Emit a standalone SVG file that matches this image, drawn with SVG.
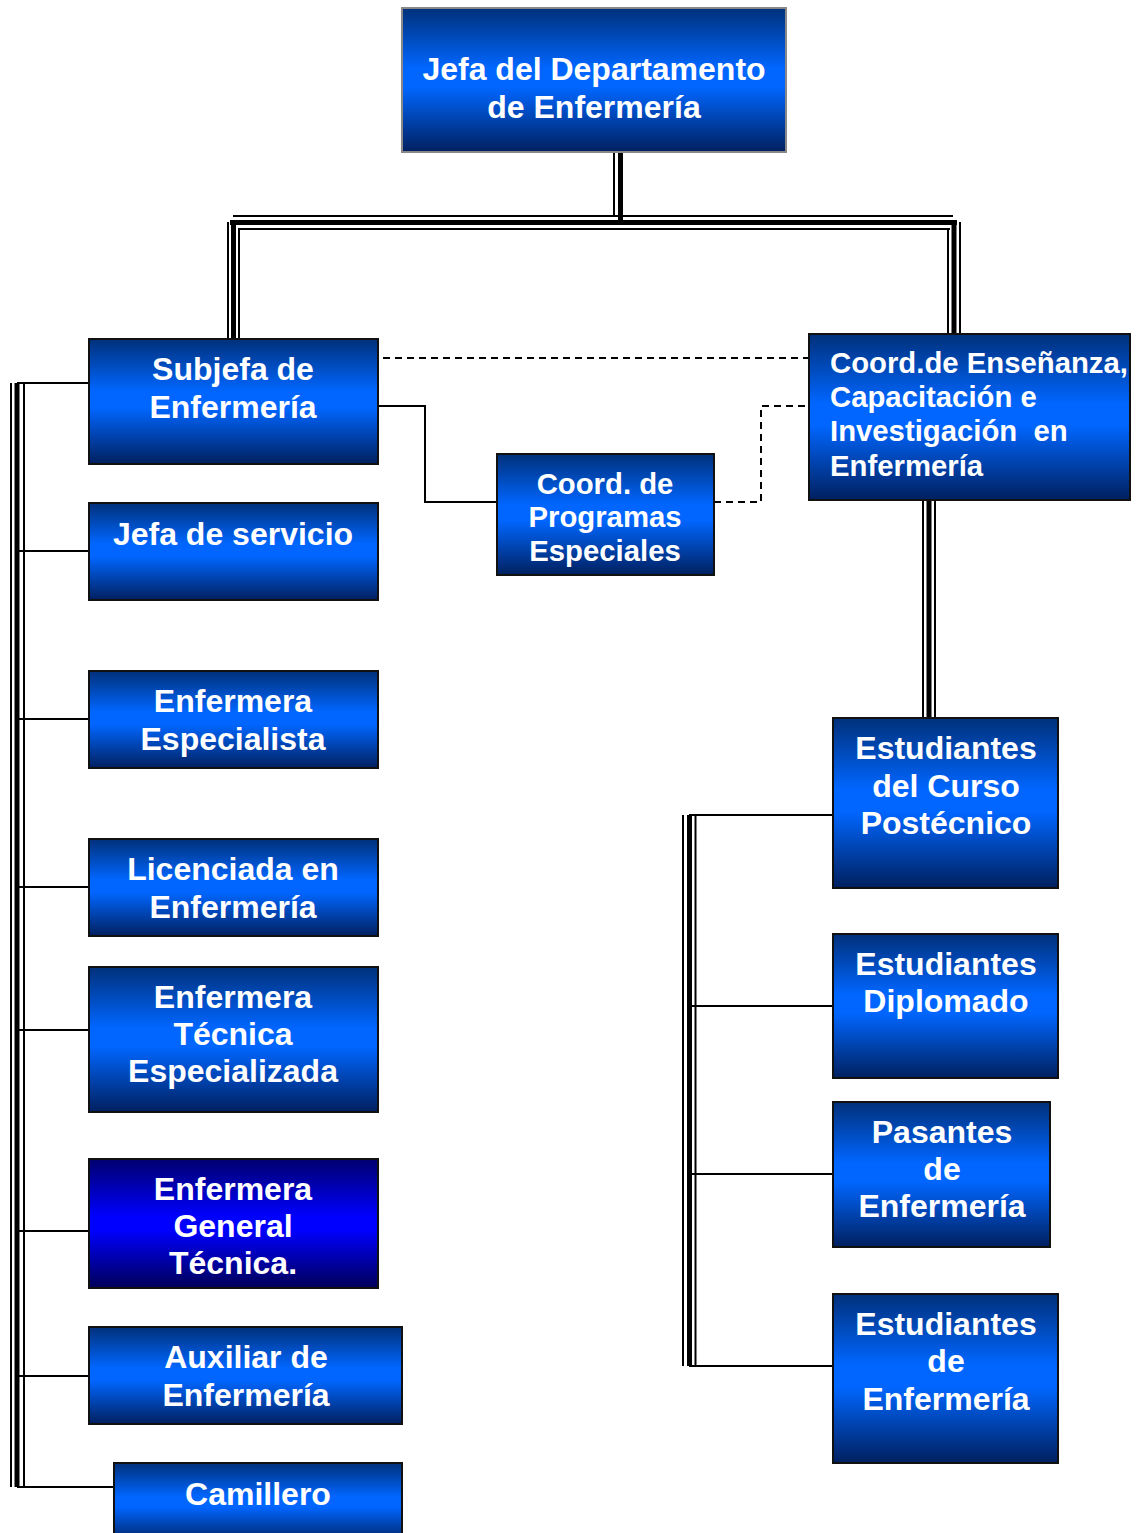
<svg xmlns="http://www.w3.org/2000/svg" width="1137" height="1533" viewBox="0 0 1137 1533">
<defs>
<linearGradient id="gb" x1="0" y1="0" x2="0" y2="1">
<stop offset="0" stop-color="#00307A"/>
<stop offset="0.42" stop-color="#0066FF"/>
<stop offset="0.55" stop-color="#0066FF"/>
<stop offset="1" stop-color="#00205F"/>
</linearGradient>
<linearGradient id="gn" x1="0" y1="0" x2="0" y2="1">
<stop offset="0" stop-color="#00006E"/>
<stop offset="0.45" stop-color="#0000FF"/>
<stop offset="0.55" stop-color="#0000FF"/>
<stop offset="1" stop-color="#000058"/>
</linearGradient>
<style>
.box{fill:url(#gb);stroke:#111;stroke-width:2}
.t{font-family:"Liberation Sans",Arial,sans-serif;font-weight:bold;font-size:32px;fill:#fff;text-anchor:middle}
.s{font-size:29.3px}
.l{text-anchor:start}
.thin{stroke:#000;stroke-width:2;fill:none}
.thk{stroke:#000;stroke-width:5;fill:none}
.dash{stroke:#000;stroke-width:2;fill:none;stroke-dasharray:7,5}
</style>
</defs>
<rect width="1137" height="1533" fill="#fff"/>
<g id="connectors">
<line class="thin" x1="614" y1="152" x2="614" y2="216"/>
<line class="thk" x1="620.5" y1="152" x2="620.5" y2="222"/>
<line class="thin" x1="233" y1="216" x2="953" y2="216"/>
<line class="thk" x1="230" y1="222.5" x2="957" y2="222.5"/>
<line class="thin" x1="238" y1="229" x2="950" y2="229"/>
<line class="thin" x1="228" y1="222" x2="228" y2="339"/>
<line class="thk" x1="233.5" y1="220" x2="233.5" y2="339"/>
<line class="thin" x1="239" y1="229" x2="239" y2="339"/>
<line class="thin" x1="948" y1="229" x2="948" y2="343"/>
<line class="thk" x1="954" y1="220" x2="954" y2="343"/>
<line class="thin" x1="960" y1="222" x2="960" y2="343"/>
<line class="thin" x1="923" y1="500" x2="923" y2="718"/>
<line class="thk" x1="929" y1="500" x2="929" y2="718"/>
<line class="thin" x1="935" y1="500" x2="935" y2="718"/>
<line class="thin" x1="11" y1="383" x2="11" y2="1487"/>
<line class="thk" x1="17" y1="383" x2="17" y2="1487"/>
<line class="thin" x1="24" y1="383" x2="24" y2="1487"/>
<line class="thin" x1="17" y1="383" x2="89" y2="383"/>
<line class="thin" x1="17" y1="551" x2="89" y2="551"/>
<line class="thin" x1="17" y1="719" x2="89" y2="719"/>
<line class="thin" x1="17" y1="887" x2="89" y2="887"/>
<line class="thin" x1="17" y1="1030" x2="89" y2="1030"/>
<line class="thin" x1="17" y1="1231" x2="89" y2="1231"/>
<line class="thin" x1="17" y1="1376" x2="89" y2="1376"/>
<line class="thin" x1="17" y1="1487" x2="114" y2="1487"/>
<line class="thin" x1="683" y1="815" x2="683" y2="1366"/>
<line class="thk" x1="689.5" y1="815" x2="689.5" y2="1366"/>
<line class="thin" x1="695.5" y1="815" x2="695.5" y2="1366"/>
<line class="thin" x1="689" y1="815" x2="833" y2="815"/>
<line class="thin" x1="689" y1="1006" x2="833" y2="1006"/>
<line class="thin" x1="689" y1="1174" x2="833" y2="1174"/>
<line class="thin" x1="689" y1="1366" x2="833" y2="1366"/>
<polyline class="thin" points="378,406 425,406 425,502 497,502"/>
<line class="dash" x1="383" y1="358" x2="809" y2="358"/>
<polyline class="dash" points="714,502 761,502 761,406 809,406"/>
</g>
<g id="n-jefa">
<rect x="402" y="8" width="384" height="144" fill="url(#gb)" stroke="#888" stroke-width="2"/>
<text class="t" x="594" y="80">Jefa del Departamento</text>
<text class="t" x="594" y="118">de Enfermería</text>
</g>
<g id="n-subjefa">
<rect class="box" x="89" y="339" width="289" height="125"/>
<text class="t" x="233" y="380">Subjefa de</text>
<text class="t" x="233" y="418">Enfermería</text>
</g>
<g id="n-jefaservicio">
<rect class="box" x="89" y="503" width="289" height="97"/>
<text class="t" x="233" y="545">Jefa de servicio</text>
</g>
<g id="n-especialista">
<rect class="box" x="89" y="671" width="289" height="97"/>
<text class="t" x="233" y="712">Enfermera</text>
<text class="t" x="233" y="750">Especialista</text>
</g>
<g id="n-licenciada">
<rect class="box" x="89" y="839" width="289" height="97"/>
<text class="t" x="233" y="880">Licenciada en</text>
<text class="t" x="233" y="918">Enfermería</text>
</g>
<g id="n-tecnica">
<rect class="box" x="89" y="967" width="289" height="145"/>
<text class="t" x="233" y="1008">Enfermera</text>
<text class="t" x="233" y="1045">Técnica</text>
<text class="t" x="233" y="1082">Especializada</text>
</g>
<g id="n-general">
<rect x="89" y="1159" width="289" height="129" fill="url(#gn)" stroke="#111" stroke-width="2"/>
<text class="t" x="233" y="1200">Enfermera</text>
<text class="t" x="233" y="1237">General</text>
<text class="t" x="233" y="1274">Técnica.</text>
</g>
<g id="n-auxiliar">
<rect class="box" x="89" y="1327" width="313" height="97"/>
<text class="t" x="246" y="1368">Auxiliar de</text>
<text class="t" x="246" y="1406">Enfermería</text>
</g>
<g id="n-camillero">
<rect class="box" x="114" y="1463" width="288" height="80"/>
<text class="t" x="258" y="1505">Camillero</text>
</g>
<g id="n-programas">
<rect class="box" x="497" y="454" width="217" height="121"/>
<text class="t s" x="605" y="494">Coord. de</text>
<text class="t s" x="605" y="527">Programas</text>
<text class="t s" x="605" y="561">Especiales</text>
</g>
<g id="n-coord">
<rect class="box" x="809" y="334" width="321" height="166"/>
<text class="t s l" x="830" y="373">Coord.de Enseñanza,</text>
<text class="t s l" x="830" y="407">Capacitación e</text>
<text class="t s l" x="830" y="441" xml:space="preserve">Investigación  en</text>
<text class="t s l" x="830" y="476">Enfermería</text>
</g>
<g id="n-postecnico">
<rect class="box" x="833" y="718" width="225" height="170"/>
<text class="t" x="946" y="759">Estudiantes</text>
<text class="t" x="946" y="797">del Curso</text>
<text class="t" x="946" y="834">Postécnico</text>
</g>
<g id="n-diplomado">
<rect class="box" x="833" y="934" width="225" height="144"/>
<text class="t" x="946" y="975">Estudiantes</text>
<text class="t" x="946" y="1012">Diplomado</text>
</g>
<g id="n-pasantes">
<rect class="box" x="833" y="1102" width="217" height="145"/>
<text class="t" x="942" y="1143">Pasantes</text>
<text class="t" x="942" y="1180">de</text>
<text class="t" x="942" y="1217">Enfermería</text>
</g>
<g id="n-estudiantes">
<rect class="box" x="833" y="1294" width="225" height="169"/>
<text class="t" x="946" y="1335">Estudiantes</text>
<text class="t" x="946" y="1372">de</text>
<text class="t" x="946" y="1410">Enfermería</text>
</g>
</svg>
